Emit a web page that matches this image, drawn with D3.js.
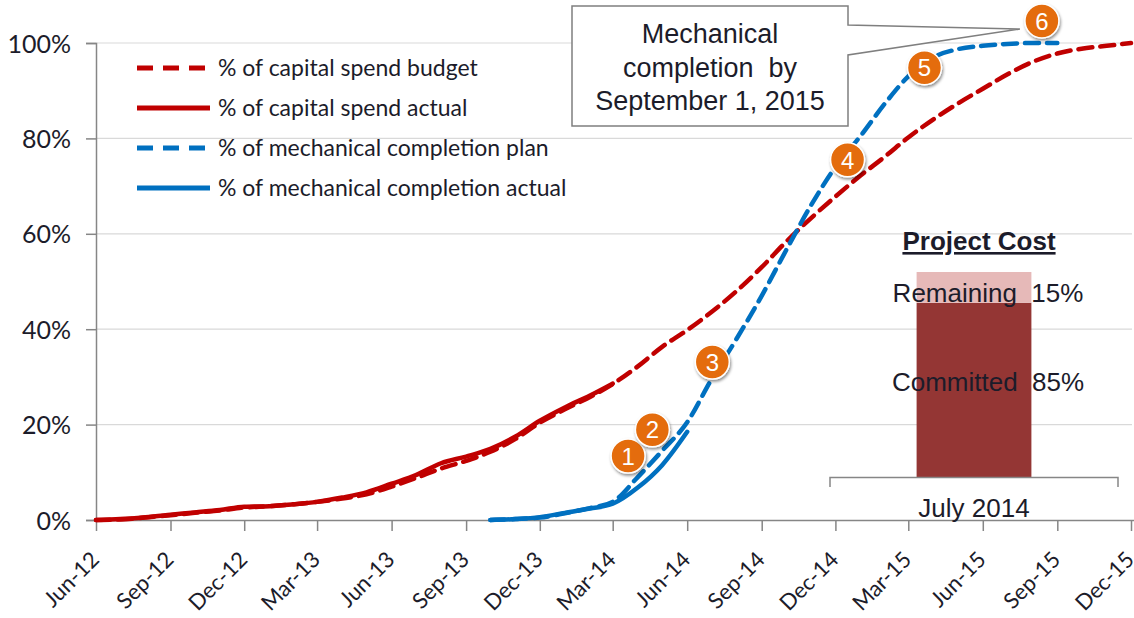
<!DOCTYPE html>
<html>
<head>
<meta charset="utf-8">
<script src="https://cdn.jsdelivr.net/npm/d3@7"></script>
<style>
  body { margin: 0; background: #fff; }
  svg { display: block; }
</style>
</head>
<body>
<svg></svg>
<script>
// ---- data ----
var budgetMonths = ["2012-06","2012-07","2012-08","2012-09","2012-10","2012-11","2012-12",
  "2013-01","2013-02","2013-03","2013-04","2013-05","2013-06","2013-07","2013-08","2013-09","2013-10","2013-11","2013-12",
  "2014-01","2014-02","2014-03","2014-04","2014-05","2014-06","2014-07","2014-08","2014-09","2014-10","2014-11","2014-12",
  "2015-01","2015-02","2015-03","2015-04","2015-05","2015-06","2015-07","2015-08","2015-09","2015-10","2015-11","2015-12"];
var budgetValues = [0, 0.1, 0.5, 1.0, 1.5, 2.0, 2.6,
  2.9, 3.3, 3.8, 4.5, 5.4, 7.0, 8.8, 10.8, 12.4, 14.3, 17.0, 20.4,
  23.2, 25.8, 28.5, 32.2, 36.3, 39.8, 43.6, 48.0, 53.0, 58.3, 63.3, 67.8,
  72.2, 76.3, 80.2, 84.0, 87.3, 90.4, 93.4, 96.0, 97.8, 98.8, 99.4, 100];

var spendMonths = ["2012-06","2012-07","2012-08","2012-09","2012-10","2012-11","2012-12",
  "2013-01","2013-02","2013-03","2013-04","2013-05","2013-06","2013-07","2013-08","2013-09","2013-10","2013-11","2013-12",
  "2014-01","2014-02","2014-03"];
var spendValues = [0, 0.2, 0.6, 1.1, 1.6, 2.1, 2.8,
  2.9, 3.3, 3.8, 4.7, 5.8, 7.6, 9.4, 11.9, 13.3, 14.9, 17.5, 20.8,
  23.6, 26.1, 28.6];

var planMonths = ["2013-10","2013-11","2013-12","2014-01","2014-02","2014-03","2014-04","2014-05","2014-06",
  "2014-07","2014-08","2014-09","2014-10","2014-11","2014-12","2015-01","2015-02","2015-03","2015-04",
  "2015-05","2015-06","2015-07","2015-08","2015-09"];
var planValues = [0, 0.2, 0.5, 1.4, 2.5, 3.8, 9.0, 14.5, 20.5,
  29.5, 38.0, 47.0, 56.5, 66.0, 74.0, 80.5, 87.5, 93.0, 97.0,
  98.7, 99.4, 99.8, 100, 100];

var mcActualMonths = ["2013-10","2013-11","2013-12","2014-01","2014-02","2014-03","2014-04","2014-05","2014-06"];
var mcActualValues = [0, 0.2, 0.6, 1.5, 2.4, 3.4, 6.8, 11.5, 18.5];

var milestoneLabels = ["1","2","3","4","5","6"];
var milestoneDates = ["2014-03-20","2014-04-19","2014-07-02","2014-12-16","2015-03-21","2015-08-13"];
var milestoneValues = [13.4, 18.9, 33.1, 75.5, 94.8, 104.6];

var tickLabels = ["Jun-12","Sep-12","Dec-12","Mar-13","Jun-13","Sep-13","Dec-13",
  "Mar-14","Jun-14","Sep-14","Dec-14","Mar-15","Jun-15","Sep-15","Dec-15"];
var yTicks = [0, 20, 40, 60, 80, 100];

var costCategories = ["July 2014"];
var costCommitted = [85];
var costRemaining = [15];

var calloutLines = ["Mechanical", "completion  by", "September 1, 2015"];

// ---- setup ----
var width = 1134, height = 618;
var parseMonth = d3.timeParse("%Y-%m");
var parseDay = d3.timeParse("%Y-%m-%d");
var parseTick = d3.timeParse("%b-%y");

var svg = d3.select("svg").attr("width", width).attr("height", height);

var defs = svg.append("defs");
defs.append("filter").attr("id", "shadow")
    .attr("x", "-50%").attr("y", "-50%").attr("width", "200%").attr("height", "200%")
  .append("feDropShadow")
    .attr("dx", 1).attr("dy", 2).attr("stdDeviation", 1.5)
    .attr("flood-color", "#000").attr("flood-opacity", 0.45);

var x = d3.scaleTime()
    .domain([parseTick("Jun-12"), parseTick("Dec-15")])
    .range([96, 1131]);
var y = d3.scaleLinear().domain([0, 100]).range([520, 43]);

var labelFont = "Lato, 'Open Sans', sans-serif";
var textColor = "#1c1c2a";

// gridlines
svg.append("g").selectAll("line")
  .data(yTicks.filter(d => d > 0))
  .enter().append("line")
    .attr("x1", 96).attr("x2", 1132)
    .attr("y1", d => y(d)).attr("y2", d => y(d))
    .attr("stroke", "#d9d9d9").attr("stroke-width", 1.2);

// y axis
var yAxis = svg.append("g")
    .attr("transform", "translate(96,0)")
    .call(d3.axisLeft(y).tickValues(yTicks).tickSize(10).tickPadding(15).tickFormat(d => d + "%"));
yAxis.select(".domain").attr("stroke", "#868686").attr("stroke-width", 1.5);
yAxis.selectAll(".tick line").attr("stroke", "#868686").attr("stroke-width", 1.5);
yAxis.selectAll("text")
    .attr("font-family", labelFont).attr("font-size", 25)
    .attr("fill", textColor).attr("dy", "0.36em");

// x axis
var xAxis = svg.append("g")
    .attr("transform", "translate(0,520)")
    .call(d3.axisBottom(x).tickValues(tickLabels.map(parseTick)).tickSize(11).tickSizeOuter(0)
      .tickFormat(d3.timeFormat("%b-%y")));
xAxis.select(".domain").attr("stroke", "#868686").attr("stroke-width", 1.5)
    .attr("d", "M96,0.5H1134");
xAxis.selectAll(".tick line").attr("stroke", "#868686").attr("stroke-width", 1.5);
xAxis.selectAll("text")
    .attr("font-family", labelFont).attr("font-size", 22)
    .attr("fill", textColor)
    .attr("text-anchor", "end")
    .attr("dy", 0)
    .attr("y", 0)
    .attr("transform", "translate(4,41) rotate(-45)");

// ---- project cost inset ----
var bx = d3.scaleBand().domain(costCategories).range([830, 1118]).padding(0.43);
var by = d3.scaleLinear().domain([0, 100]).range([477, 272]);
var inset = svg.append("g");
inset.selectAll(".committed")
  .data(costCategories)
  .enter().append("rect")
    .attr("x", d => bx(d)).attr("width", bx.bandwidth())
    .attr("y", (d, i) => by(costCommitted[i]))
    .attr("height", (d, i) => by(0) - by(costCommitted[i]))
    .attr("fill", "#943634");
inset.selectAll(".remaining")
  .data(costCategories)
  .enter().append("rect")
    .attr("x", d => bx(d)).attr("width", bx.bandwidth())
    .attr("y", (d, i) => by(costCommitted[i] + costRemaining[i]))
    .attr("height", (d, i) => by(costCommitted[i]) - by(costCommitted[i] + costRemaining[i]))
    .attr("fill", "#e6b9b8");
inset.append("path")
    .attr("d", "M830,487V477.5H1118V487")
    .attr("fill", "none").attr("stroke", "#868686").attr("stroke-width", 1.5);

var insetFont = "'Liberation Sans', Arial, sans-serif";
costCategories.forEach(function(c, i) {
  var cx = bx(c) + bx.bandwidth() / 2;
  inset.append("text")
      .attr("x", cx + 14).attr("y", (by(costCommitted[i]) + by(costCommitted[i] + costRemaining[i])) / 2 + 15)
      .attr("text-anchor", "middle").attr("font-family", insetFont).attr("font-size", 26)
      .attr("fill", textColor).style("white-space", "pre")
      .text("Remaining  " + costRemaining[i] + "%");
  inset.append("text")
      .attr("x", cx + 14).attr("y", (by(0) + by(costCommitted[i])) / 2 + 1)
      .attr("text-anchor", "middle").attr("font-family", insetFont).attr("font-size", 26)
      .attr("fill", textColor).style("white-space", "pre")
      .text("Committed  " + costCommitted[i] + "%");
  inset.append("text")
      .attr("x", cx).attr("y", 517)
      .attr("text-anchor", "middle").attr("font-family", insetFont).attr("font-size", 26)
      .attr("fill", textColor)
      .text(c);
  inset.append("text")
      .attr("x", cx + 5).attr("y", 250)
      .attr("text-anchor", "middle").attr("font-family", insetFont).attr("font-size", 26)
      .attr("font-weight", "bold").attr("text-decoration", "underline")
      .attr("fill", textColor)
      .text("Project Cost");
});

// ---- lines ----
var line = d3.line()
    .x(d => x(d.date))
    .y(d => y(d.value))
    .curve(d3.curveMonotoneX);

function pairs(months, values) {
  return months.map((m, i) => ({ date: parseMonth(m), value: values[i] }));
}

var series = [
  { name: "% of capital spend budget", data: pairs(budgetMonths, budgetValues), color: "#c00000", dash: "14,8" },
  { name: "% of capital spend actual", data: pairs(spendMonths, spendValues), color: "#c00000", dash: null },
  { name: "% of mechanical completion plan", data: pairs(planMonths, planValues), color: "#0070c0", dash: "14,8" },
  { name: "% of mechanical completion actual", data: pairs(mcActualMonths, mcActualValues), color: "#0070c0", dash: null }
];

svg.append("g").selectAll("path")
  .data(series)
  .enter().append("path")
    .attr("d", d => line(d.data))
    .attr("fill", "none")
    .attr("stroke", d => d.color)
    .attr("stroke-width", 4.5)
    .attr("stroke-linecap", "round")
    .attr("stroke-dasharray", d => d.dash);

// ---- legend ----
var legend = svg.append("g").selectAll("g")
  .data(series)
  .enter().append("g")
    .attr("transform", (d, i) => "translate(137," + (68 + i * 40) + ")");
legend.append("line")
    .attr("x1", 0).attr("x2", 73)
    .attr("stroke", d => d.color).attr("stroke-width", 5)
    .attr("stroke-dasharray", d => d.dash ? "16,10" : null);
legend.append("text")
    .attr("x", 81).attr("dy", "0.35em")
    .attr("font-family", labelFont).attr("font-size", 23)
    .attr("fill", textColor)
    .text(d => d.name);

// ---- callout ----
var callout = svg.append("g");
var tip = { x: x(parseDay(milestoneDates[5])) - 22, y: y(milestoneValues[5]) + 8 };
callout.append("path")
    .attr("d", "M572,6H848V25L" + tip.x + "," + tip.y + "L848,55V126H572Z")
    .attr("fill", "#fff").attr("stroke", "#7f7f7f").attr("stroke-width", 1.5);
callout.selectAll("text")
  .data(calloutLines)
  .enter().append("text")
    .attr("x", 710).attr("y", (d, i) => 43 + i * 33.5)
    .attr("text-anchor", "middle")
    .attr("font-family", insetFont).attr("font-size", 27)
    .attr("fill", textColor).style("white-space", "pre")
    .text(d => d);

// ---- milestone markers ----
var marks = svg.append("g").selectAll("g")
  .data(milestoneLabels)
  .enter().append("g")
    .attr("transform", (d, i) => "translate(" + x(parseDay(milestoneDates[i])) + "," + y(milestoneValues[i]) + ")");
marks.append("circle")
    .attr("r", 17)
    .attr("fill", "#e46c0a")
    .attr("stroke", "#fff").attr("stroke-width", 1.5)
    .attr("filter", "url(#shadow)");
marks.append("text")
    .attr("text-anchor", "middle").attr("dy", "0.36em")
    .attr("font-family", insetFont).attr("font-size", 24)
    .attr("fill", "#fff")
    .text(d => d);
</script>
</body>
</html>
